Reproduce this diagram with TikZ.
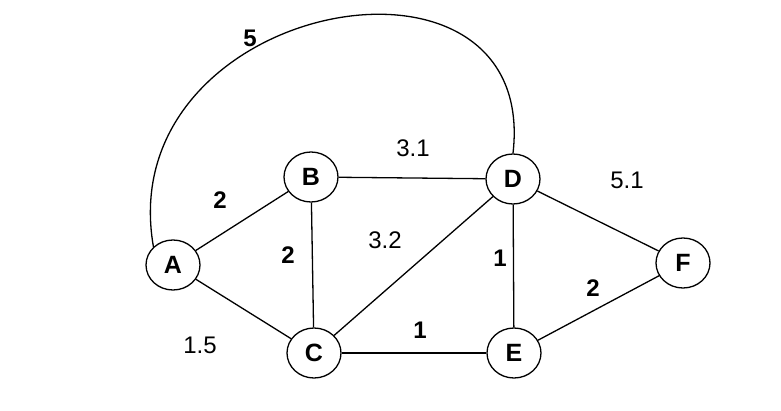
\documentclass[tikz,border=0pt]{standalone}
\usepackage{fontspec}
\setmainfont{Liberation Sans}
\begin{document}
\begin{tikzpicture}[x=1pt,y=-1pt,line width=1.3pt,
  vertex/.style={draw,ellipse,minimum width=54pt,minimum height=50pt,inner sep=0pt,font=\fontsize{25}{28}\selectfont\bfseries},
  wlab/.style={font=\fontsize{24}{28}\selectfont},
  blab/.style={font=\fontsize{24}{28}\selectfont\bfseries}]
\useasboundingbox (0,0) rectangle (781,411);
\usetikzlibrary{shapes.geometric}

\node[vertex] (A) at (173,265) {A};
\node[vertex] (B) at (311,177) {B};
\node[vertex] (C) at (314,353) {C};
\node[vertex] (D) at (513,179) {D};
\node[vertex] (E) at (514,353) {E};
\node[vertex] (F) at (683,263) {F};

\draw (A) -- (B);
\draw (A) -- (C);
\draw (B) -- (C);
\draw (B) -- (D);
\draw (C) -- (D);
\draw (C) -- (E);
\draw (D) -- (E);
\draw (D) -- (F);
\draw (E) -- (F);
\draw (A.north west) .. controls (110,0) and (540,-80) .. (D.north);

\node[blab] (w1) at (250,38) {5};
\node[blab] (w2) at (220,200) {2};
\node[blab] (w3) at (288,255) {2};
\node[wlab] (w4) at (200,345) {1.5};
\node[wlab] (w5) at (413,148) {3.1};
\node[wlab] (w6) at (385,240) {3.2};
\node[blab] (w7) at (500,258) {1};
\node[blab] (w8) at (420,330) {1};
\node[wlab] (w9) at (627,180) {5.1};
\node[blab] (w10) at (593,288) {2};
\end{tikzpicture}
\end{document}
